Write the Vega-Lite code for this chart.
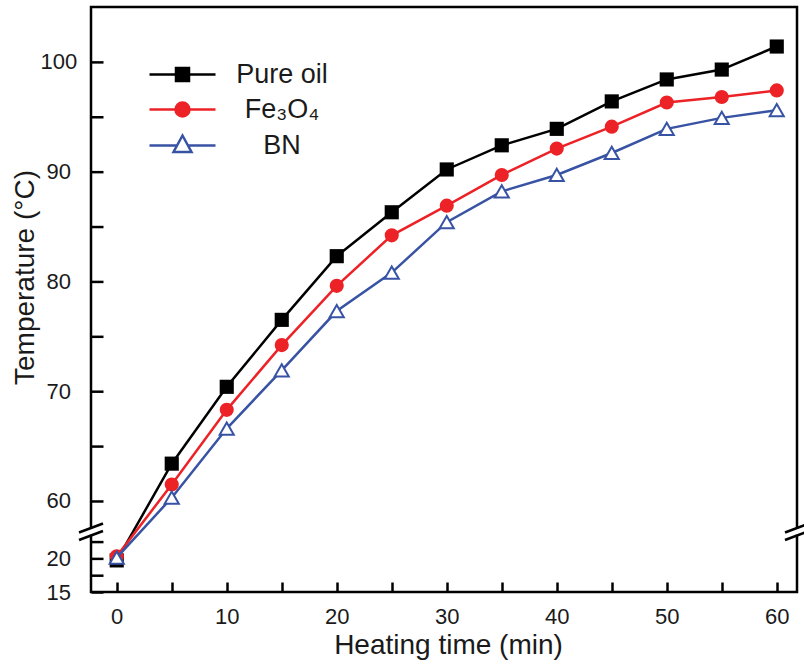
{
  "$schema": "https://vega.github.io/schema/vega-lite/v6.json",
  "width": 706,
  "height": 585,
  "autosize": {"type": "none"},
  "padding": {"left": 91, "top": 7, "right": 7, "bottom": 74},
  "background": "white",
  "config": {
    "view": {"stroke": "#000000", "strokeWidth": 2.5},
    "font": "Liberation Sans",
    "axis": {
      "labelFont": "Liberation Sans",
      "titleFont": "Liberation Sans",
      "labelColor": "#1a1a1a",
      "titleColor": "#1a1a1a",
      "grid": false,
      "domain": false,
      "tickColor": "#000000",
      "tickWidth": 2.5,
      "labelFontSize": 22,
      "titleFontSize": 28,
      "titleFontWeight": "normal",
      "labelOverlap": false,
      "labelFlush": false
    },
    "legend": {
      "symbolStrokeWidth": 2.5,
      "symbolSize": 400,
      "labelFont": "Liberation Sans",
      "labelFontSize": 27,
      "labelColor": "#1a1a1a",
      "labelAlign": "center",
      "labelOffset": 86,
      "labelLimit": 300,
      "rowPadding": 7,
      "padding": 0,
      "symbolOpacity": 1
    }
  },
  "data": {
    "values": [
      {"t": 0, "series": "Pure oil", "temp": 19.7},
      {"t": 5, "series": "Pure oil", "temp": 63.4},
      {"t": 10, "series": "Pure oil", "temp": 70.4},
      {"t": 15, "series": "Pure oil", "temp": 76.5},
      {"t": 20, "series": "Pure oil", "temp": 82.3},
      {"t": 25, "series": "Pure oil", "temp": 86.3},
      {"t": 30, "series": "Pure oil", "temp": 90.2},
      {"t": 35, "series": "Pure oil", "temp": 92.4},
      {"t": 40, "series": "Pure oil", "temp": 93.9},
      {"t": 45, "series": "Pure oil", "temp": 96.4},
      {"t": 50, "series": "Pure oil", "temp": 98.4},
      {"t": 55, "series": "Pure oil", "temp": 99.3},
      {"t": 60, "series": "Pure oil", "temp": 101.4},
      {"t": 0, "series": "Fe₃O₄", "temp": 20.3},
      {"t": 5, "series": "Fe₃O₄", "temp": 61.5},
      {"t": 10, "series": "Fe₃O₄", "temp": 68.3},
      {"t": 15, "series": "Fe₃O₄", "temp": 74.2},
      {"t": 20, "series": "Fe₃O₄", "temp": 79.6},
      {"t": 25, "series": "Fe₃O₄", "temp": 84.2},
      {"t": 30, "series": "Fe₃O₄", "temp": 86.9},
      {"t": 35, "series": "Fe₃O₄", "temp": 89.7},
      {"t": 40, "series": "Fe₃O₄", "temp": 92.1},
      {"t": 45, "series": "Fe₃O₄", "temp": 94.1},
      {"t": 50, "series": "Fe₃O₄", "temp": 96.3},
      {"t": 55, "series": "Fe₃O₄", "temp": 96.8},
      {"t": 60, "series": "Fe₃O₄", "temp": 97.4},
      {"t": 0, "series": "BN", "temp": 20.1},
      {"t": 5, "series": "BN", "temp": 60.3},
      {"t": 10, "series": "BN", "temp": 66.6},
      {"t": 15, "series": "BN", "temp": 71.9},
      {"t": 20, "series": "BN", "temp": 77.3},
      {"t": 25, "series": "BN", "temp": 80.8},
      {"t": 30, "series": "BN", "temp": 85.4},
      {"t": 35, "series": "BN", "temp": 88.2},
      {"t": 40, "series": "BN", "temp": 89.7},
      {"t": 45, "series": "BN", "temp": 91.7},
      {"t": 50, "series": "BN", "temp": 93.9},
      {"t": 55, "series": "BN", "temp": 94.9},
      {"t": 60, "series": "BN", "temp": 95.6}
    ]
  },
  "layer": [
    {
      "transform": [{"filter": {"field": "series", "equal": "Pure oil"}}],
      "mark": {"type": "line", "strokeWidth": 2.5, "color": "#000000"},
      "encoding": {
        "x": {
          "field": "t",
          "type": "quantitative",
          "scale": {"domain": [-2.34, 61.84], "nice": false, "zero": false},
          "axis": {
            "title": "Heating time (min)",
            "values": [0, 5, 10, 15, 20, 25, 30, 35, 40, 45, 50, 55, 60],
            "labelExpr": "datum.value % 10 === 0 ? datum.label : ''",
            "tickSize": -10,
            "labelPadding": 24.5,
            "labelBaseline": "top",
            "titleX": 357,
            "titleY": 53,
            "titleAlign": "center",
            "titleBaseline": "middle"
          }
        },
        "y": {
          "field": "temp",
          "type": "quantitative",
          "scale": {"domain": [15, 23.33, 57.72, 105], "range": [585, 529, 519, 0], "nice": false, "zero": false},
          "axis": {
            "title": "Temperature (°C)",
            "values": [15, 17.5, 20, 22.5, 60, 65, 70, 75, 80, 85, 90, 95, 100],
            "labelExpr": "(datum.value % 10 === 0 || datum.value === 15) ? datum.label : ''",
            "ticks": true,
            "tickRound": false,
            "tickOpacity": 1,
            "tickSize": -12,
            "labelAlign": "center",
            "labelBaseline": "middle",
            "labelPadding": 44.7,
            "titleX": -66,
            "titleY": 270,
            "titleAngle": 270,
            "titleAlign": "center",
            "titleBaseline": "middle"
          }
        }
      }
    },
    {
      "transform": [{"filter": {"field": "series", "equal": "Pure oil"}}],
      "mark": {"type": "point", "shape": "square", "filled": true, "color": "#000000", "size": 200, "strokeWidth": 2, "opacity": 1},
      "encoding": {
        "x": {"field": "t", "type": "quantitative"},
        "y": {"field": "temp", "type": "quantitative"}
      }
    },
    {
      "transform": [{"filter": {"field": "series", "equal": "Fe₃O₄"}}],
      "mark": {"type": "line", "strokeWidth": 2.5, "color": "#ec2227"},
      "encoding": {
        "x": {"field": "t", "type": "quantitative"},
        "y": {"field": "temp", "type": "quantitative"}
      }
    },
    {
      "transform": [{"filter": {"field": "series", "equal": "Fe₃O₄"}}],
      "mark": {"type": "point", "shape": "circle", "filled": true, "color": "#ec2227", "size": 200, "strokeWidth": 2, "opacity": 1},
      "encoding": {
        "x": {"field": "t", "type": "quantitative"},
        "y": {"field": "temp", "type": "quantitative"}
      }
    },
    {
      "transform": [{"filter": {"field": "series", "equal": "BN"}}],
      "mark": {"type": "line", "strokeWidth": 2.5, "color": "#3853a4"},
      "encoding": {
        "x": {"field": "t", "type": "quantitative"},
        "y": {"field": "temp", "type": "quantitative"}
      }
    },
    {
      "transform": [{"filter": {"field": "series", "equal": "BN"}}],
      "mark": {"type": "point", "shape": "triangle-up", "filled": false, "fill": "#ffffff", "stroke": "#3853a4", "size": 200, "strokeWidth": 2, "opacity": 1, "fillOpacity": 1},
      "encoding": {
        "x": {"field": "t", "type": "quantitative"},
        "y": {"field": "temp", "type": "quantitative"}
      }
    },
    {
      "transform": [{"filter": "false"}],
      "mark": {"type": "point", "strokeWidth": 2.5, "opacity": 1, "fillOpacity": 1},
      "encoding": {
        "x": {"field": "t", "type": "quantitative"},
        "y": {"field": "temp", "type": "quantitative"},
        "shape": {
          "field": "series",
          "type": "nominal",
          "scale": {
            "domain": ["Pure oil", "Fe₃O₄", "BN"],
            "range": [
              "M-3.3,0H3.3M-0.65,-0.65H0.65V0.65H-0.65Z",
              "M-3.3,0H-0.7M0.7,0H3.3M-0.7,0A0.7,0.7,0,1,1,0.7,0A0.7,0.7,0,1,1,-0.7,0Z",
              "M-3.3,0H-0.57M0.57,0H3.3M-0.9,0.65L0.9,0.65L0,-1Z"
            ]
          },
          "legend": {"orient": "none", "legendX": 78, "legendY": 54, "title": null}
        },
        "fill": {
          "field": "series",
          "type": "nominal",
          "scale": {"domain": ["Pure oil", "Fe₃O₄", "BN"], "range": ["#000000", "#ec2227", "#ffffff"]},
          "legend": {"orient": "none", "legendX": 78, "legendY": 54, "title": null}
        },
        "stroke": {
          "field": "series",
          "type": "nominal",
          "scale": {"domain": ["Pure oil", "Fe₃O₄", "BN"], "range": ["#000000", "#ec2227", "#3853a4"]},
          "legend": {"orient": "none", "legendX": 78, "legendY": 54, "title": null}
        }
      }
    },
    {
      "data": {"values": [{}]},
      "mark": {"type": "rect", "fill": "#ffffff", "strokeWidth": 0},
      "encoding": {"x": {"datum": -3.0}, "x2": {"datum": -1.7}, "y": {"datum": 48.09}, "y2": {"datum": 27.8}}
    },
    {
      "data": {"values": [{}]},
      "mark": {"type": "rect", "fill": "#ffffff", "strokeWidth": 0},
      "encoding": {"x": {"datum": 61.2}, "x2": {"datum": 62.5}, "y": {"datum": 48.09}, "y2": {"datum": 27.8}}
    },
    {
      "data": {"values": [{}]},
      "mark": {"type": "rule", "color": "#000000", "strokeWidth": 2.5},
      "encoding": {"x": {"datum": -3.43}, "x2": {"datum": -1.25}, "y": {"datum": 35.37}, "y2": {"datum": 57.95}}
    },
    {
      "data": {"values": [{}]},
      "mark": {"type": "rule", "color": "#000000", "strokeWidth": 2.5},
      "encoding": {"x": {"datum": -3.43}, "x2": {"datum": -1.25}, "y": {"datum": 22.73}, "y2": {"datum": 40.53}}
    },
    {
      "data": {"values": [{}]},
      "mark": {"type": "rule", "color": "#000000", "strokeWidth": 2.5},
      "encoding": {"x": {"datum": 60.75}, "x2": {"datum": 62.93}, "y": {"datum": 35.37}, "y2": {"datum": 57.95}}
    },
    {
      "data": {"values": [{}]},
      "mark": {"type": "rule", "color": "#000000", "strokeWidth": 2.5},
      "encoding": {"x": {"datum": 60.75}, "x2": {"datum": 62.93}, "y": {"datum": 22.73}, "y2": {"datum": 40.53}}
    }
  ]
}
